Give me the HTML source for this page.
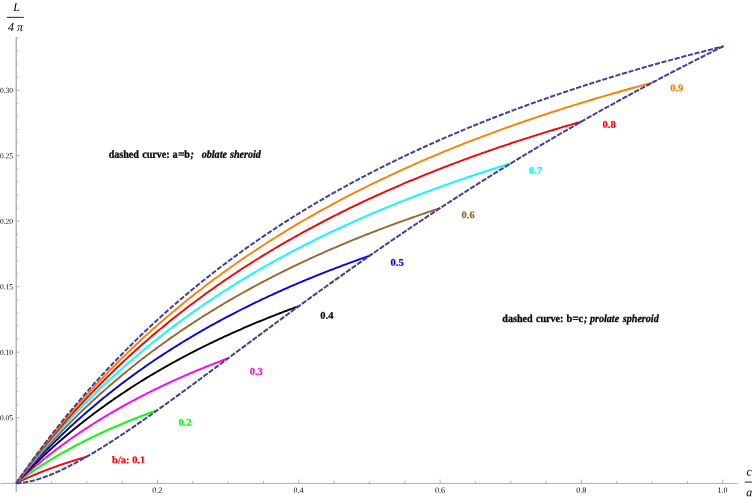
<!DOCTYPE html>
<html><head><meta charset="utf-8"><title>L/4pi vs c/a</title>
<style>
html,body{margin:0;padding:0;background:#fff;}
body{width:754px;height:497px;overflow:hidden;font-family:"Liberation Serif",serif;}
svg{display:block;will-change:transform;text-rendering:geometricPrecision;}
</style></head><body>
<svg width="754" height="497" viewBox="0 0 754 497">
<rect width="754" height="497" fill="#fff"/>
<g stroke="#b0b0b0" stroke-width="1" fill="none" shape-rendering="auto">
<line x1="1.0" y1="483.45" x2="737.5" y2="483.45"/>
<line x1="16.25" y1="37.3" x2="16.25" y2="492" stroke-width="1.4"/>
<line x1="51.53" y1="483.5" x2="51.53" y2="481.10"/>
<line x1="86.85" y1="483.5" x2="86.85" y2="481.10"/>
<line x1="122.18" y1="483.5" x2="122.18" y2="481.10"/>
<line x1="157.50" y1="483.5" x2="157.50" y2="479.50"/>
<line x1="192.82" y1="483.5" x2="192.82" y2="481.10"/>
<line x1="228.15" y1="483.5" x2="228.15" y2="481.10"/>
<line x1="263.48" y1="483.5" x2="263.48" y2="481.10"/>
<line x1="298.80" y1="483.5" x2="298.80" y2="479.50"/>
<line x1="334.12" y1="483.5" x2="334.12" y2="481.10"/>
<line x1="369.45" y1="483.5" x2="369.45" y2="481.10"/>
<line x1="404.78" y1="483.5" x2="404.78" y2="481.10"/>
<line x1="440.10" y1="483.5" x2="440.10" y2="479.50"/>
<line x1="475.43" y1="483.5" x2="475.43" y2="481.10"/>
<line x1="510.75" y1="483.5" x2="510.75" y2="481.10"/>
<line x1="546.08" y1="483.5" x2="546.08" y2="481.10"/>
<line x1="581.40" y1="483.5" x2="581.40" y2="479.50"/>
<line x1="616.73" y1="483.5" x2="616.73" y2="481.10"/>
<line x1="652.05" y1="483.5" x2="652.05" y2="481.10"/>
<line x1="687.38" y1="483.5" x2="687.38" y2="481.10"/>
<line x1="722.70" y1="483.5" x2="722.70" y2="479.50"/>
<line x1="16.25" y1="470.10" x2="18.15" y2="470.10"/>
<line x1="16.25" y1="457.00" x2="18.15" y2="457.00"/>
<line x1="16.25" y1="443.90" x2="18.15" y2="443.90"/>
<line x1="16.25" y1="430.80" x2="18.15" y2="430.80"/>
<line x1="16.25" y1="417.70" x2="19.65" y2="417.70"/>
<line x1="16.25" y1="404.60" x2="18.15" y2="404.60"/>
<line x1="16.25" y1="391.50" x2="18.15" y2="391.50"/>
<line x1="16.25" y1="378.40" x2="18.15" y2="378.40"/>
<line x1="16.25" y1="365.30" x2="18.15" y2="365.30"/>
<line x1="16.25" y1="352.20" x2="19.65" y2="352.20"/>
<line x1="16.25" y1="339.10" x2="18.15" y2="339.10"/>
<line x1="16.25" y1="326.00" x2="18.15" y2="326.00"/>
<line x1="16.25" y1="312.90" x2="18.15" y2="312.90"/>
<line x1="16.25" y1="299.80" x2="18.15" y2="299.80"/>
<line x1="16.25" y1="286.70" x2="19.65" y2="286.70"/>
<line x1="16.25" y1="273.60" x2="18.15" y2="273.60"/>
<line x1="16.25" y1="260.50" x2="18.15" y2="260.50"/>
<line x1="16.25" y1="247.40" x2="18.15" y2="247.40"/>
<line x1="16.25" y1="234.30" x2="18.15" y2="234.30"/>
<line x1="16.25" y1="221.20" x2="19.65" y2="221.20"/>
<line x1="16.25" y1="208.10" x2="18.15" y2="208.10"/>
<line x1="16.25" y1="195.00" x2="18.15" y2="195.00"/>
<line x1="16.25" y1="181.90" x2="18.15" y2="181.90"/>
<line x1="16.25" y1="168.80" x2="18.15" y2="168.80"/>
<line x1="16.25" y1="155.70" x2="19.65" y2="155.70"/>
<line x1="16.25" y1="142.60" x2="18.15" y2="142.60"/>
<line x1="16.25" y1="129.50" x2="18.15" y2="129.50"/>
<line x1="16.25" y1="116.40" x2="18.15" y2="116.40"/>
<line x1="16.25" y1="103.30" x2="18.15" y2="103.30"/>
<line x1="16.25" y1="90.20" x2="19.65" y2="90.20"/>
<line x1="16.25" y1="77.10" x2="18.15" y2="77.10"/>
<line x1="16.25" y1="64.00" x2="18.15" y2="64.00"/>
<line x1="16.25" y1="50.90" x2="18.15" y2="50.90"/>
<line x1="16.25" y1="37.80" x2="18.15" y2="37.80"/>
</g>
<g fill="none" stroke-width="1.9" stroke-linejoin="round">
<path d="M16.20 483.20 L16.50 483.05 L16.79 482.90 L17.09 482.76 L17.38 482.61 L17.68 482.46 L17.97 482.32 L18.27 482.17 L18.56 482.03 L18.86 481.88 L19.16 481.74 L19.45 481.60 L19.75 481.45 L20.04 481.31 L20.34 481.17 L20.63 481.02 L20.93 480.88 L21.23 480.74 L21.52 480.60 L21.82 480.46 L22.11 480.32 L22.41 480.18 L22.70 480.04 L23.00 479.90 L23.29 479.76 L23.59 479.63 L23.89 479.49 L24.18 479.35 L24.48 479.22 L24.77 479.08 L25.07 478.94 L25.36 478.81 L25.66 478.67 L25.96 478.54 L26.25 478.40 L26.55 478.27 L26.84 478.14 L27.14 478.00 L27.43 477.87 L27.73 477.74 L28.02 477.60 L28.32 477.47 L28.62 477.34 L28.91 477.21 L29.21 477.08 L29.50 476.95 L29.80 476.82 L30.09 476.69 L30.39 476.56 L30.68 476.43 L30.98 476.30 L31.28 476.17 L31.57 476.04 L31.87 475.92 L32.16 475.79 L32.46 475.66 L32.75 475.53 L33.05 475.41 L33.35 475.28 L33.64 475.16 L33.94 475.03 L34.23 474.91 L34.53 474.78 L34.82 474.66 L35.12 474.53 L35.41 474.41 L35.71 474.29 L36.01 474.16 L36.30 474.04 L36.60 473.92 L36.89 473.79 L37.19 473.67 L37.48 473.55 L37.78 473.43 L38.07 473.31 L38.37 473.19 L38.67 473.07 L38.96 472.95 L39.26 472.83 L39.55 472.71 L39.85 472.59 L40.14 472.47 L40.44 472.35 L40.74 472.23 L41.03 472.11 L41.33 472.00 L41.62 471.88 L41.92 471.76 L42.21 471.64 L42.51 471.53 L42.80 471.41 L43.10 471.30 L43.40 471.18 L43.69 471.06 L43.99 470.95 L44.28 470.83 L44.58 470.72 L44.87 470.60 L45.17 470.49 L45.47 470.38 L45.76 470.26 L46.06 470.15 L46.35 470.04 L46.65 469.92 L46.94 469.81 L47.24 469.70 L47.53 469.59 L47.83 469.47 L48.13 469.36 L48.42 469.25 L48.72 469.14 L49.01 469.03 L49.31 468.92 L49.60 468.81 L49.90 468.70 L50.19 468.59 L50.49 468.48 L50.79 468.37 L51.08 468.26 L51.38 468.15 L51.67 468.04 L51.97 467.94 L52.26 467.83 L52.56 467.72 L52.86 467.61 L53.15 467.50 L53.45 467.40 L53.74 467.29 L54.04 467.18 L54.33 467.08 L54.63 466.97 L54.92 466.87 L55.22 466.76 L55.52 466.65 L55.81 466.55 L56.11 466.44 L56.40 466.34 L56.70 466.23 L56.99 466.13 L57.29 466.03 L57.58 465.92 L57.88 465.82 L58.18 465.72 L58.47 465.61 L58.77 465.51 L59.06 465.41 L59.36 465.30 L59.65 465.20 L59.95 465.10 L60.25 465.00 L60.54 464.90 L60.84 464.79 L61.13 464.69 L61.43 464.59 L61.72 464.49 L62.02 464.39 L62.31 464.29 L62.61 464.19 L62.91 464.09 L63.20 463.99 L63.50 463.89 L63.79 463.79 L64.09 463.69 L64.38 463.59 L64.68 463.50 L64.98 463.40 L65.27 463.30 L65.57 463.20 L65.86 463.10 L66.16 463.01 L66.45 462.91 L66.75 462.81 L67.04 462.71 L67.34 462.62 L67.64 462.52 L67.93 462.42 L68.23 462.33 L68.52 462.23 L68.82 462.13 L69.11 462.04 L69.41 461.94 L69.70 461.85 L70.00 461.75 L70.30 461.66 L70.59 461.56 L70.89 461.47 L71.18 461.37 L71.48 461.28 L71.77 461.19 L72.07 461.09 L72.37 461.00 L72.66 460.91 L72.96 460.81 L73.25 460.72 L73.55 460.63 L73.84 460.53 L74.14 460.44 L74.43 460.35 L74.73 460.26 L75.03 460.16 L75.32 460.07 L75.62 459.98 L75.91 459.89 L76.21 459.80 L76.50 459.71 L76.80 459.62 L77.09 459.53 L77.39 459.43 L77.69 459.34 L77.98 459.25 L78.28 459.16 L78.57 459.07 L78.87 458.98 L79.16 458.90 L79.46 458.81 L79.76 458.72 L80.05 458.63 L80.35 458.54 L80.64 458.45 L80.94 458.36 L81.23 458.27 L81.53 458.18 L81.82 458.10 L82.12 458.01 L82.42 457.92 L82.71 457.83 L83.01 457.75 L83.30 457.66 L83.60 457.57 L83.89 457.49 L84.19 457.40 L84.49 457.31 L84.78 457.23 L85.08 457.14 L85.37 457.05 L85.67 456.97 L85.96 456.88 L86.26 456.80 L86.55 456.71 L86.85 456.63" stroke="#ff0000"/>
<path d="M16.20 483.20 L16.79 482.75 L17.38 482.31 L17.97 481.86 L18.56 481.42 L19.16 480.98 L19.75 480.54 L20.34 480.10 L20.93 479.67 L21.52 479.23 L22.11 478.80 L22.70 478.37 L23.29 477.94 L23.89 477.51 L24.48 477.09 L25.07 476.67 L25.66 476.24 L26.25 475.82 L26.84 475.40 L27.43 474.99 L28.02 474.57 L28.62 474.16 L29.21 473.75 L29.80 473.34 L30.39 472.93 L30.98 472.52 L31.57 472.11 L32.16 471.71 L32.75 471.31 L33.35 470.90 L33.94 470.50 L34.53 470.11 L35.12 469.71 L35.71 469.31 L36.30 468.92 L36.89 468.53 L37.48 468.14 L38.07 467.75 L38.67 467.36 L39.26 466.97 L39.85 466.59 L40.44 466.20 L41.03 465.82 L41.62 465.44 L42.21 465.06 L42.80 464.68 L43.40 464.30 L43.99 463.93 L44.58 463.55 L45.17 463.18 L45.76 462.81 L46.35 462.44 L46.94 462.07 L47.53 461.70 L48.13 461.34 L48.72 460.97 L49.31 460.61 L49.90 460.24 L50.49 459.88 L51.08 459.52 L51.67 459.16 L52.26 458.81 L52.86 458.45 L53.45 458.10 L54.04 457.74 L54.63 457.39 L55.22 457.04 L55.81 456.69 L56.40 456.34 L56.99 455.99 L57.58 455.64 L58.18 455.30 L58.77 454.96 L59.36 454.61 L59.95 454.27 L60.54 453.93 L61.13 453.59 L61.72 453.25 L62.31 452.91 L62.91 452.58 L63.50 452.24 L64.09 451.91 L64.68 451.58 L65.27 451.24 L65.86 450.91 L66.45 450.58 L67.04 450.26 L67.64 449.93 L68.23 449.60 L68.82 449.28 L69.41 448.95 L70.00 448.63 L70.59 448.31 L71.18 447.99 L71.77 447.67 L72.37 447.35 L72.96 447.03 L73.55 446.71 L74.14 446.40 L74.73 446.08 L75.32 445.77 L75.91 445.46 L76.50 445.14 L77.09 444.83 L77.69 444.52 L78.28 444.22 L78.87 443.91 L79.46 443.60 L80.05 443.29 L80.64 442.99 L81.23 442.69 L81.82 442.38 L82.42 442.08 L83.01 441.78 L83.60 441.48 L84.19 441.18 L84.78 440.88 L85.37 440.58 L85.96 440.29 L86.55 439.99 L87.15 439.70 L87.74 439.40 L88.33 439.11 L88.92 438.82 L89.51 438.53 L90.10 438.24 L90.69 437.95 L91.28 437.66 L91.88 437.37 L92.47 437.09 L93.06 436.80 L93.65 436.52 L94.24 436.23 L94.83 435.95 L95.42 435.67 L96.01 435.38 L96.61 435.10 L97.20 434.82 L97.79 434.55 L98.38 434.27 L98.97 433.99 L99.56 433.71 L100.15 433.44 L100.74 433.16 L101.33 432.89 L101.93 432.62 L102.52 432.34 L103.11 432.07 L103.70 431.80 L104.29 431.53 L104.88 431.26 L105.47 430.99 L106.06 430.73 L106.66 430.46 L107.25 430.19 L107.84 429.93 L108.43 429.66 L109.02 429.40 L109.61 429.14 L110.20 428.87 L110.79 428.61 L111.39 428.35 L111.98 428.09 L112.57 427.83 L113.16 427.57 L113.75 427.31 L114.34 427.06 L114.93 426.80 L115.52 426.55 L116.12 426.29 L116.71 426.04 L117.30 425.78 L117.89 425.53 L118.48 425.28 L119.07 425.03 L119.66 424.78 L120.25 424.53 L120.84 424.28 L121.44 424.03 L122.03 423.78 L122.62 423.53 L123.21 423.29 L123.80 423.04 L124.39 422.80 L124.98 422.55 L125.57 422.31 L126.17 422.07 L126.76 421.82 L127.35 421.58 L127.94 421.34 L128.53 421.10 L129.12 420.86 L129.71 420.62 L130.30 420.38 L130.90 420.14 L131.49 419.91 L132.08 419.67 L132.67 419.44 L133.26 419.20 L133.85 418.97 L134.44 418.73 L135.03 418.50 L135.63 418.27 L136.22 418.03 L136.81 417.80 L137.40 417.57 L137.99 417.34 L138.58 417.11 L139.17 416.88 L139.76 416.65 L140.35 416.43 L140.95 416.20 L141.54 415.97 L142.13 415.75 L142.72 415.52 L143.31 415.30 L143.90 415.07 L144.49 414.85 L145.08 414.63 L145.68 414.40 L146.27 414.18 L146.86 413.96 L147.45 413.74 L148.04 413.52 L148.63 413.30 L149.22 413.08 L149.81 412.86 L150.41 412.64 L151.00 412.43 L151.59 412.21 L152.18 411.99 L152.77 411.78 L153.36 411.56 L153.95 411.35 L154.54 411.14 L155.14 410.92 L155.73 410.71 L156.32 410.50 L156.91 410.29 L157.50 410.07" stroke="#00ff00"/>
<path d="M16.20 483.20 L17.09 482.37 L17.97 481.55 L18.86 480.73 L19.75 479.91 L20.63 479.10 L21.52 478.29 L22.41 477.49 L23.29 476.69 L24.18 475.89 L25.07 475.10 L25.96 474.31 L26.84 473.53 L27.73 472.75 L28.62 471.97 L29.50 471.20 L30.39 470.43 L31.28 469.66 L32.16 468.90 L33.05 468.14 L33.94 467.38 L34.82 466.63 L35.71 465.88 L36.60 465.14 L37.48 464.40 L38.37 463.66 L39.26 462.92 L40.14 462.19 L41.03 461.47 L41.92 460.74 L42.80 460.02 L43.69 459.30 L44.58 458.59 L45.47 457.88 L46.35 457.17 L47.24 456.46 L48.13 455.76 L49.01 455.06 L49.90 454.37 L50.79 453.68 L51.67 452.99 L52.56 452.30 L53.45 451.62 L54.33 450.94 L55.22 450.26 L56.11 449.59 L56.99 448.92 L57.88 448.25 L58.77 447.59 L59.65 446.92 L60.54 446.26 L61.43 445.61 L62.31 444.95 L63.20 444.30 L64.09 443.66 L64.98 443.01 L65.86 442.37 L66.75 441.73 L67.64 441.09 L68.52 440.46 L69.41 439.83 L70.30 439.20 L71.18 438.57 L72.07 437.95 L72.96 437.33 L73.84 436.71 L74.73 436.10 L75.62 435.48 L76.50 434.87 L77.39 434.27 L78.28 433.66 L79.16 433.06 L80.05 432.46 L80.94 431.86 L81.82 431.27 L82.71 430.67 L83.60 430.08 L84.49 429.50 L85.37 428.91 L86.26 428.33 L87.15 427.75 L88.03 427.17 L88.92 426.59 L89.81 426.02 L90.69 425.45 L91.58 424.88 L92.47 424.31 L93.35 423.75 L94.24 423.19 L95.13 422.63 L96.01 422.07 L96.90 421.51 L97.79 420.96 L98.67 420.41 L99.56 419.86 L100.45 419.32 L101.33 418.77 L102.22 418.23 L103.11 417.69 L104.00 417.15 L104.88 416.62 L105.77 416.08 L106.66 415.55 L107.54 415.02 L108.43 414.49 L109.32 413.97 L110.20 413.44 L111.09 412.92 L111.98 412.40 L112.86 411.89 L113.75 411.37 L114.64 410.86 L115.52 410.35 L116.41 409.84 L117.30 409.33 L118.18 408.82 L119.07 408.32 L119.96 407.82 L120.84 407.32 L121.73 406.82 L122.62 406.33 L123.51 405.83 L124.39 405.34 L125.28 404.85 L126.17 404.36 L127.05 403.87 L127.94 403.39 L128.83 402.91 L129.71 402.42 L130.60 401.95 L131.49 401.47 L132.37 400.99 L133.26 400.52 L134.15 400.05 L135.03 399.57 L135.92 399.11 L136.81 398.64 L137.69 398.17 L138.58 397.71 L139.47 397.25 L140.35 396.79 L141.24 396.33 L142.13 395.87 L143.02 395.42 L143.90 394.96 L144.79 394.51 L145.68 394.06 L146.56 393.61 L147.45 393.16 L148.34 392.72 L149.22 392.27 L150.11 391.83 L151.00 391.39 L151.88 390.95 L152.77 390.51 L153.66 390.08 L154.54 389.64 L155.43 389.21 L156.32 388.78 L157.20 388.35 L158.09 387.92 L158.98 387.49 L159.86 387.07 L160.75 386.64 L161.64 386.22 L162.53 385.80 L163.41 385.38 L164.30 384.96 L165.19 384.54 L166.07 384.13 L166.96 383.72 L167.85 383.30 L168.73 382.89 L169.62 382.48 L170.51 382.07 L171.39 381.67 L172.28 381.26 L173.17 380.86 L174.05 380.46 L174.94 380.05 L175.83 379.66 L176.71 379.26 L177.60 378.86 L178.49 378.46 L179.37 378.07 L180.26 377.68 L181.15 377.28 L182.04 376.89 L182.92 376.51 L183.81 376.12 L184.70 375.73 L185.58 375.35 L186.47 374.96 L187.36 374.58 L188.24 374.20 L189.13 373.82 L190.02 373.44 L190.90 373.06 L191.79 372.69 L192.68 372.31 L193.56 371.94 L194.45 371.56 L195.34 371.19 L196.22 370.82 L197.11 370.45 L198.00 370.09 L198.88 369.72 L199.77 369.35 L200.66 368.99 L201.55 368.63 L202.43 368.27 L203.32 367.90 L204.21 367.55 L205.09 367.19 L205.98 366.83 L206.87 366.47 L207.75 366.12 L208.64 365.77 L209.53 365.41 L210.41 365.06 L211.30 364.71 L212.19 364.36 L213.07 364.01 L213.96 363.67 L214.85 363.32 L215.73 362.98 L216.62 362.63 L217.51 362.29 L218.39 361.95 L219.28 361.61 L220.17 361.27 L221.06 360.93 L221.94 360.60 L222.83 360.26 L223.72 359.92 L224.60 359.59 L225.49 359.26 L226.38 358.93 L227.26 358.59 L228.15 358.27" stroke="#ff00ff"/>
<path d="M16.20 483.20 L17.38 481.94 L18.56 480.69 L19.75 479.45 L20.93 478.21 L22.11 476.98 L23.29 475.76 L24.48 474.54 L25.66 473.33 L26.84 472.13 L28.02 470.94 L29.21 469.75 L30.39 468.57 L31.57 467.39 L32.75 466.23 L33.94 465.06 L35.12 463.91 L36.30 462.76 L37.48 461.62 L38.67 460.48 L39.85 459.35 L41.03 458.23 L42.21 457.11 L43.40 456.00 L44.58 454.89 L45.76 453.79 L46.94 452.70 L48.13 451.61 L49.31 450.53 L50.49 449.46 L51.67 448.38 L52.86 447.32 L54.04 446.26 L55.22 445.21 L56.40 444.16 L57.58 443.12 L58.77 442.08 L59.95 441.05 L61.13 440.03 L62.31 439.01 L63.50 437.99 L64.68 436.98 L65.86 435.98 L67.04 434.98 L68.23 433.99 L69.41 433.00 L70.59 432.01 L71.77 431.03 L72.96 430.06 L74.14 429.09 L75.32 428.13 L76.50 427.17 L77.69 426.22 L78.87 425.27 L80.05 424.32 L81.23 423.38 L82.42 422.45 L83.60 421.52 L84.78 420.59 L85.96 419.67 L87.15 418.76 L88.33 417.85 L89.51 416.94 L90.69 416.04 L91.88 415.14 L93.06 414.24 L94.24 413.35 L95.42 412.47 L96.61 411.59 L97.79 410.71 L98.97 409.84 L100.15 408.97 L101.33 408.11 L102.52 407.25 L103.70 406.40 L104.88 405.54 L106.06 404.70 L107.25 403.86 L108.43 403.02 L109.61 402.18 L110.79 401.35 L111.98 400.52 L113.16 399.70 L114.34 398.88 L115.52 398.07 L116.71 397.26 L117.89 396.45 L119.07 395.64 L120.25 394.84 L121.44 394.05 L122.62 393.26 L123.80 392.47 L124.98 391.68 L126.17 390.90 L127.35 390.12 L128.53 389.35 L129.71 388.58 L130.90 387.81 L132.08 387.05 L133.26 386.29 L134.44 385.53 L135.63 384.78 L136.81 384.03 L137.99 383.28 L139.17 382.54 L140.35 381.80 L141.54 381.06 L142.72 380.33 L143.90 379.60 L145.08 378.87 L146.27 378.15 L147.45 377.43 L148.63 376.72 L149.81 376.00 L151.00 375.29 L152.18 374.58 L153.36 373.88 L154.54 373.18 L155.73 372.48 L156.91 371.79 L158.09 371.10 L159.27 370.41 L160.46 369.72 L161.64 369.04 L162.82 368.36 L164.00 367.68 L165.19 367.01 L166.37 366.34 L167.55 365.67 L168.73 365.01 L169.92 364.34 L171.10 363.69 L172.28 363.03 L173.46 362.38 L174.65 361.72 L175.83 361.08 L177.01 360.43 L178.19 359.79 L179.37 359.15 L180.56 358.51 L181.74 357.88 L182.92 357.25 L184.10 356.62 L185.29 355.99 L186.47 355.37 L187.65 354.75 L188.83 354.13 L190.02 353.51 L191.20 352.90 L192.38 352.29 L193.56 351.68 L194.75 351.07 L195.93 350.47 L197.11 349.87 L198.29 349.27 L199.48 348.68 L200.66 348.08 L201.84 347.49 L203.02 346.90 L204.21 346.32 L205.39 345.73 L206.57 345.15 L207.75 344.57 L208.94 344.00 L210.12 343.42 L211.30 342.85 L212.48 342.28 L213.67 341.71 L214.85 341.15 L216.03 340.59 L217.21 340.03 L218.39 339.47 L219.58 338.91 L220.76 338.36 L221.94 337.81 L223.12 337.26 L224.31 336.71 L225.49 336.17 L226.67 335.62 L227.85 335.08 L229.04 334.54 L230.22 334.01 L231.40 333.47 L232.58 332.94 L233.77 332.41 L234.95 331.88 L236.13 331.36 L237.31 330.83 L238.50 330.31 L239.68 329.79 L240.86 329.27 L242.04 328.76 L243.23 328.24 L244.41 327.73 L245.59 327.22 L246.77 326.71 L247.96 326.21 L249.14 325.70 L250.32 325.20 L251.50 324.70 L252.69 324.20 L253.87 323.71 L255.05 323.21 L256.23 322.72 L257.42 322.23 L258.60 321.74 L259.78 321.25 L260.96 320.77 L262.14 320.29 L263.33 319.80 L264.51 319.32 L265.69 318.85 L266.87 318.37 L268.06 317.90 L269.24 317.42 L270.42 316.95 L271.60 316.48 L272.79 316.02 L273.97 315.55 L275.15 315.09 L276.33 314.62 L277.52 314.16 L278.70 313.71 L279.88 313.25 L281.06 312.79 L282.25 312.34 L283.43 311.89 L284.61 311.44 L285.79 310.99 L286.98 310.54 L288.16 310.10 L289.34 309.65 L290.52 309.21 L291.71 308.77 L292.89 308.33 L294.07 307.89 L295.25 307.46 L296.44 307.02 L297.62 306.59 L298.80 306.16" stroke="#000000"/>
<path d="M16.20 483.20 L17.68 481.48 L19.16 479.77 L20.63 478.07 L22.11 476.38 L23.59 474.70 L25.07 473.04 L26.55 471.38 L28.02 469.74 L29.50 468.10 L30.98 466.48 L32.46 464.87 L33.94 463.27 L35.41 461.67 L36.89 460.09 L38.37 458.52 L39.85 456.96 L41.33 455.41 L42.80 453.86 L44.28 452.33 L45.76 450.81 L47.24 449.29 L48.72 447.79 L50.19 446.30 L51.67 444.81 L53.15 443.33 L54.63 441.87 L56.11 440.41 L57.58 438.96 L59.06 437.52 L60.54 436.09 L62.02 434.66 L63.50 433.25 L64.98 431.84 L66.45 430.45 L67.93 429.06 L69.41 427.68 L70.89 426.31 L72.37 424.94 L73.84 423.59 L75.32 422.24 L76.80 420.90 L78.28 419.57 L79.76 418.24 L81.23 416.93 L82.71 415.62 L84.19 414.32 L85.67 413.02 L87.15 411.74 L88.62 410.46 L90.10 409.19 L91.58 407.93 L93.06 406.67 L94.54 405.42 L96.01 404.18 L97.49 402.95 L98.97 401.72 L100.45 400.50 L101.93 399.28 L103.40 398.08 L104.88 396.88 L106.36 395.68 L107.84 394.50 L109.32 393.32 L110.79 392.14 L112.27 390.98 L113.75 389.82 L115.23 388.66 L116.71 387.52 L118.18 386.38 L119.66 385.24 L121.14 384.11 L122.62 382.99 L124.10 381.88 L125.57 380.77 L127.05 379.66 L128.53 378.56 L130.01 377.47 L131.49 376.39 L132.96 375.31 L134.44 374.23 L135.92 373.16 L137.40 372.10 L138.88 371.05 L140.35 369.99 L141.83 368.95 L143.31 367.91 L144.79 366.87 L146.27 365.84 L147.74 364.82 L149.22 363.80 L150.70 362.79 L152.18 361.78 L153.66 360.78 L155.14 359.78 L156.61 358.79 L158.09 357.81 L159.57 356.82 L161.05 355.85 L162.53 354.88 L164.00 353.91 L165.48 352.95 L166.96 351.99 L168.44 351.04 L169.92 350.09 L171.39 349.15 L172.87 348.22 L174.35 347.28 L175.83 346.36 L177.31 345.43 L178.78 344.52 L180.26 343.60 L181.74 342.69 L183.22 341.79 L184.70 340.89 L186.17 339.99 L187.65 339.10 L189.13 338.22 L190.61 337.34 L192.09 336.46 L193.56 335.58 L195.04 334.72 L196.52 333.85 L198.00 332.99 L199.48 332.14 L200.95 331.28 L202.43 330.44 L203.91 329.59 L205.39 328.75 L206.87 327.92 L208.34 327.09 L209.82 326.26 L211.30 325.44 L212.78 324.62 L214.26 323.80 L215.73 322.99 L217.21 322.18 L218.69 321.38 L220.17 320.58 L221.65 319.78 L223.12 318.99 L224.60 318.20 L226.08 317.42 L227.56 316.64 L229.04 315.86 L230.51 315.09 L231.99 314.31 L233.47 313.55 L234.95 312.79 L236.43 312.03 L237.91 311.27 L239.38 310.52 L240.86 309.77 L242.34 309.02 L243.82 308.28 L245.30 307.54 L246.77 306.81 L248.25 306.08 L249.73 305.35 L251.21 304.63 L252.69 303.90 L254.16 303.19 L255.64 302.47 L257.12 301.76 L258.60 301.05 L260.08 300.35 L261.55 299.64 L263.03 298.94 L264.51 298.25 L265.99 297.56 L267.47 296.87 L268.94 296.18 L270.42 295.50 L271.90 294.82 L273.38 294.14 L274.86 293.47 L276.33 292.79 L277.81 292.13 L279.29 291.46 L280.77 290.80 L282.25 290.14 L283.72 289.48 L285.20 288.83 L286.68 288.18 L288.16 287.53 L289.64 286.89 L291.11 286.24 L292.59 285.60 L294.07 284.97 L295.55 284.33 L297.03 283.70 L298.50 283.07 L299.98 282.45 L301.46 281.83 L302.94 281.21 L304.42 280.59 L305.89 279.97 L307.37 279.36 L308.85 278.75 L310.33 278.14 L311.81 277.54 L313.28 276.94 L314.76 276.34 L316.24 275.74 L317.72 275.15 L319.20 274.56 L320.67 273.97 L322.15 273.38 L323.63 272.80 L325.11 272.21 L326.59 271.63 L328.07 271.06 L329.54 270.48 L331.02 269.91 L332.50 269.34 L333.98 268.77 L335.46 268.21 L336.93 267.65 L338.41 267.09 L339.89 266.53 L341.37 265.97 L342.85 265.42 L344.32 264.87 L345.80 264.32 L347.28 263.77 L348.76 263.23 L350.24 262.68 L351.71 262.14 L353.19 261.61 L354.67 261.07 L356.15 260.54 L357.63 260.01 L359.10 259.48 L360.58 258.95 L362.06 258.42 L363.54 257.90 L365.02 257.38 L366.49 256.86 L367.97 256.35 L369.45 255.83" stroke="#0000ff"/>
<path d="M16.20 483.20 L17.97 480.99 L19.75 478.80 L21.52 476.62 L23.29 474.46 L25.07 472.32 L26.84 470.19 L28.62 468.08 L30.39 465.98 L32.16 463.90 L33.94 461.83 L35.71 459.78 L37.48 457.74 L39.26 455.72 L41.03 453.71 L42.80 451.71 L44.58 449.73 L46.35 447.77 L48.13 445.82 L49.90 443.88 L51.67 441.95 L53.45 440.04 L55.22 438.14 L56.99 436.26 L58.77 434.39 L60.54 432.53 L62.31 430.68 L64.09 428.85 L65.86 427.03 L67.64 425.22 L69.41 423.42 L71.18 421.64 L72.96 419.87 L74.73 418.11 L76.50 416.36 L78.28 414.62 L80.05 412.90 L81.82 411.18 L83.60 409.48 L85.37 407.79 L87.15 406.11 L88.92 404.44 L90.69 402.79 L92.47 401.14 L94.24 399.50 L96.01 397.88 L97.79 396.27 L99.56 394.66 L101.33 393.07 L103.11 391.49 L104.88 389.91 L106.66 388.35 L108.43 386.80 L110.20 385.26 L111.98 383.72 L113.75 382.20 L115.52 380.69 L117.30 379.18 L119.07 377.69 L120.84 376.20 L122.62 374.73 L124.39 373.26 L126.17 371.81 L127.94 370.36 L129.71 368.92 L131.49 367.49 L133.26 366.07 L135.03 364.66 L136.81 363.25 L138.58 361.86 L140.35 360.47 L142.13 359.09 L143.90 357.72 L145.68 356.36 L147.45 355.01 L149.22 353.67 L151.00 352.33 L152.77 351.00 L154.54 349.68 L156.32 348.37 L158.09 347.06 L159.86 345.77 L161.64 344.48 L163.41 343.19 L165.19 341.92 L166.96 340.65 L168.73 339.40 L170.51 338.14 L172.28 336.90 L174.05 335.66 L175.83 334.43 L177.60 333.21 L179.37 332.00 L181.15 330.79 L182.92 329.59 L184.70 328.39 L186.47 327.20 L188.24 326.02 L190.02 324.85 L191.79 323.68 L193.56 322.52 L195.34 321.37 L197.11 320.22 L198.88 319.08 L200.66 317.95 L202.43 316.82 L204.21 315.70 L205.98 314.58 L207.75 313.47 L209.53 312.37 L211.30 311.27 L213.07 310.18 L214.85 309.10 L216.62 308.02 L218.39 306.95 L220.17 305.88 L221.94 304.82 L223.72 303.76 L225.49 302.71 L227.26 301.67 L229.04 300.63 L230.81 299.60 L232.58 298.58 L234.36 297.55 L236.13 296.54 L237.91 295.53 L239.68 294.52 L241.45 293.53 L243.23 292.53 L245.00 291.54 L246.77 290.56 L248.55 289.58 L250.32 288.61 L252.09 287.64 L253.87 286.68 L255.64 285.72 L257.42 284.77 L259.19 283.82 L260.96 282.88 L262.74 281.95 L264.51 281.01 L266.28 280.09 L268.06 279.16 L269.83 278.25 L271.60 277.33 L273.38 276.42 L275.15 275.52 L276.93 274.62 L278.70 273.73 L280.47 272.84 L282.25 271.95 L284.02 271.07 L285.79 270.20 L287.57 269.32 L289.34 268.46 L291.11 267.59 L292.89 266.73 L294.66 265.88 L296.44 265.03 L298.21 264.19 L299.98 263.34 L301.76 262.51 L303.53 261.67 L305.30 260.85 L307.08 260.02 L308.85 259.20 L310.62 258.38 L312.40 257.57 L314.17 256.76 L315.95 255.96 L317.72 255.16 L319.49 254.36 L321.27 253.57 L323.04 252.78 L324.81 252.00 L326.59 251.21 L328.36 250.44 L330.13 249.66 L331.91 248.89 L333.68 248.13 L335.46 247.37 L337.23 246.61 L339.00 245.85 L340.78 245.10 L342.55 244.35 L344.32 243.61 L346.10 242.87 L347.87 242.13 L349.64 241.40 L351.42 240.67 L353.19 239.94 L354.97 239.22 L356.74 238.50 L358.51 237.78 L360.29 237.07 L362.06 236.36 L363.83 235.65 L365.61 234.95 L367.38 234.25 L369.15 233.56 L370.93 232.86 L372.70 232.17 L374.48 231.49 L376.25 230.80 L378.02 230.12 L379.80 229.44 L381.57 228.77 L383.34 228.10 L385.12 227.43 L386.89 226.77 L388.66 226.10 L390.44 225.45 L392.21 224.79 L393.99 224.14 L395.76 223.49 L397.53 222.84 L399.31 222.20 L401.08 221.55 L402.85 220.92 L404.63 220.28 L406.40 219.65 L408.17 219.02 L409.95 218.39 L411.72 217.77 L413.50 217.15 L415.27 216.53 L417.04 215.91 L418.82 215.30 L420.59 214.69 L422.36 214.08 L424.14 213.48 L425.91 212.87 L427.68 212.27 L429.46 211.68 L431.23 211.08 L433.01 210.49 L434.78 209.90 L436.55 209.32 L438.33 208.73 L440.10 208.15" stroke="#996633"/>
<path d="M16.20 483.20 L18.27 480.49 L20.34 477.80 L22.41 475.13 L24.48 472.49 L26.55 469.86 L28.62 467.26 L30.68 464.68 L32.75 462.11 L34.82 459.57 L36.89 457.05 L38.96 454.55 L41.03 452.07 L43.10 449.61 L45.17 447.17 L47.24 444.75 L49.31 442.34 L51.38 439.96 L53.45 437.59 L55.52 435.24 L57.58 432.91 L59.65 430.60 L61.72 428.31 L63.79 426.03 L65.86 423.77 L67.93 421.53 L70.00 419.31 L72.07 417.10 L74.14 414.91 L76.21 412.73 L78.28 410.58 L80.35 408.43 L82.42 406.31 L84.49 404.20 L86.55 402.10 L88.62 400.02 L90.69 397.96 L92.76 395.91 L94.83 393.88 L96.90 391.86 L98.97 389.85 L101.04 387.86 L103.11 385.89 L105.18 383.93 L107.25 381.98 L109.32 380.05 L111.39 378.13 L113.45 376.22 L115.52 374.33 L117.59 372.45 L119.66 370.59 L121.73 368.74 L123.80 366.90 L125.87 365.07 L127.94 363.26 L130.01 361.46 L132.08 359.67 L134.15 357.90 L136.22 356.13 L138.29 354.38 L140.35 352.64 L142.42 350.92 L144.49 349.20 L146.56 347.50 L148.63 345.81 L150.70 344.13 L152.77 342.46 L154.84 340.80 L156.91 339.15 L158.98 337.52 L161.05 335.90 L163.12 334.28 L165.19 332.68 L167.26 331.09 L169.32 329.51 L171.39 327.93 L173.46 326.37 L175.53 324.82 L177.60 323.28 L179.67 321.75 L181.74 320.23 L183.81 318.72 L185.88 317.22 L187.95 315.73 L190.02 314.25 L192.09 312.78 L194.16 311.32 L196.22 309.87 L198.29 308.42 L200.36 306.99 L202.43 305.56 L204.50 304.15 L206.57 302.74 L208.64 301.34 L210.71 299.95 L212.78 298.57 L214.85 297.20 L216.92 295.84 L218.99 294.48 L221.06 293.14 L223.12 291.80 L225.19 290.47 L227.26 289.15 L229.33 287.84 L231.40 286.53 L233.47 285.23 L235.54 283.95 L237.61 282.66 L239.68 281.39 L241.75 280.13 L243.82 278.87 L245.89 277.62 L247.96 276.37 L250.02 275.14 L252.09 273.91 L254.16 272.69 L256.23 271.48 L258.30 270.27 L260.37 269.07 L262.44 267.88 L264.51 266.70 L266.58 265.52 L268.65 264.35 L270.72 263.18 L272.79 262.03 L274.86 260.88 L276.93 259.73 L278.99 258.60 L281.06 257.47 L283.13 256.34 L285.20 255.23 L287.27 254.12 L289.34 253.01 L291.41 251.91 L293.48 250.82 L295.55 249.74 L297.62 248.66 L299.69 247.58 L301.76 246.52 L303.83 245.46 L305.89 244.40 L307.96 243.35 L310.03 242.31 L312.10 241.27 L314.17 240.24 L316.24 239.22 L318.31 238.20 L320.38 237.18 L322.45 236.17 L324.52 235.17 L326.59 234.17 L328.66 233.18 L330.73 232.20 L332.79 231.22 L334.86 230.24 L336.93 229.27 L339.00 228.30 L341.07 227.35 L343.14 226.39 L345.21 225.44 L347.28 224.50 L349.35 223.56 L351.42 222.63 L353.49 221.70 L355.56 220.77 L357.63 219.85 L359.69 218.94 L361.76 218.03 L363.83 217.13 L365.90 216.23 L367.97 215.33 L370.04 214.44 L372.11 213.56 L374.18 212.68 L376.25 211.80 L378.32 210.93 L380.39 210.06 L382.46 209.20 L384.53 208.34 L386.60 207.49 L388.66 206.64 L390.73 205.80 L392.80 204.96 L394.87 204.12 L396.94 203.29 L399.01 202.47 L401.08 201.64 L403.15 200.82 L405.22 200.01 L407.29 199.20 L409.36 198.39 L411.43 197.59 L413.50 196.79 L415.56 196.00 L417.63 195.21 L419.70 194.43 L421.77 193.64 L423.84 192.87 L425.91 192.09 L427.98 191.32 L430.05 190.56 L432.12 189.79 L434.19 189.03 L436.26 188.28 L438.33 187.53 L440.40 186.78 L442.46 186.04 L444.53 185.30 L446.60 184.56 L448.67 183.83 L450.74 183.10 L452.81 182.37 L454.88 181.65 L456.95 180.93 L459.02 180.22 L461.09 179.51 L463.16 178.80 L465.23 178.09 L467.30 177.39 L469.37 176.70 L471.43 176.00 L473.50 175.31 L475.57 174.62 L477.64 173.94 L479.71 173.26 L481.78 172.58 L483.85 171.90 L485.92 171.23 L487.99 170.56 L490.06 169.90 L492.13 169.24 L494.20 168.58 L496.27 167.92 L498.33 167.27 L500.40 166.62 L502.47 165.97 L504.54 165.33 L506.61 164.69 L508.68 164.05 L510.75 163.42" stroke="#00ffff"/>
<path d="M16.20 483.20 L18.56 479.97 L20.93 476.77 L23.29 473.61 L25.66 470.46 L28.02 467.35 L30.39 464.27 L32.75 461.21 L35.12 458.18 L37.48 455.17 L39.85 452.19 L42.21 449.24 L44.58 446.31 L46.94 443.41 L49.31 440.53 L51.67 437.68 L54.04 434.85 L56.40 432.05 L58.77 429.27 L61.13 426.51 L63.50 423.78 L65.86 421.07 L68.23 418.38 L70.59 415.72 L72.96 413.08 L75.32 410.46 L77.69 407.86 L80.05 405.28 L82.42 402.73 L84.78 400.19 L87.15 397.68 L89.51 395.18 L91.88 392.71 L94.24 390.25 L96.61 387.82 L98.97 385.41 L101.33 383.01 L103.70 380.64 L106.06 378.28 L108.43 375.94 L110.79 373.62 L113.16 371.32 L115.52 369.04 L117.89 366.77 L120.25 364.53 L122.62 362.30 L124.98 360.08 L127.35 357.89 L129.71 355.71 L132.08 353.55 L134.44 351.40 L136.81 349.27 L139.17 347.16 L141.54 345.07 L143.90 342.99 L146.27 340.92 L148.63 338.87 L151.00 336.84 L153.36 334.82 L155.73 332.82 L158.09 330.83 L160.46 328.86 L162.82 326.90 L165.19 324.95 L167.55 323.02 L169.92 321.11 L172.28 319.21 L174.65 317.32 L177.01 315.44 L179.37 313.58 L181.74 311.74 L184.10 309.90 L186.47 308.08 L188.83 306.28 L191.20 304.48 L193.56 302.70 L195.93 300.93 L198.29 299.18 L200.66 297.43 L203.02 295.70 L205.39 293.98 L207.75 292.27 L210.12 290.58 L212.48 288.90 L214.85 287.22 L217.21 285.56 L219.58 283.92 L221.94 282.28 L224.31 280.65 L226.67 279.04 L229.04 277.44 L231.40 275.84 L233.77 274.26 L236.13 272.69 L238.50 271.13 L240.86 269.58 L243.23 268.04 L245.59 266.51 L247.96 265.00 L250.32 263.49 L252.69 261.99 L255.05 260.50 L257.42 259.02 L259.78 257.56 L262.14 256.10 L264.51 254.65 L266.87 253.21 L269.24 251.78 L271.60 250.36 L273.97 248.95 L276.33 247.54 L278.70 246.15 L281.06 244.77 L283.43 243.39 L285.79 242.02 L288.16 240.67 L290.52 239.32 L292.89 237.98 L295.25 236.65 L297.62 235.32 L299.98 234.01 L302.35 232.70 L304.71 231.41 L307.08 230.12 L309.44 228.83 L311.81 227.56 L314.17 226.29 L316.54 225.04 L318.90 223.79 L321.27 222.54 L323.63 221.31 L326.00 220.08 L328.36 218.86 L330.73 217.65 L333.09 216.45 L335.46 215.25 L337.82 214.06 L340.18 212.88 L342.55 211.70 L344.91 210.54 L347.28 209.37 L349.64 208.22 L352.01 207.07 L354.37 205.93 L356.74 204.80 L359.10 203.67 L361.47 202.55 L363.83 201.44 L366.20 200.33 L368.56 199.23 L370.93 198.14 L373.29 197.05 L375.66 195.97 L378.02 194.90 L380.39 193.83 L382.75 192.77 L385.12 191.72 L387.48 190.67 L389.85 189.62 L392.21 188.59 L394.58 187.55 L396.94 186.53 L399.31 185.51 L401.67 184.50 L404.04 183.49 L406.40 182.49 L408.77 181.49 L411.13 180.50 L413.50 179.52 L415.86 178.54 L418.23 177.56 L420.59 176.60 L422.95 175.63 L425.32 174.68 L427.68 173.72 L430.05 172.78 L432.41 171.84 L434.78 170.90 L437.14 169.97 L439.51 169.04 L441.87 168.12 L444.24 167.21 L446.60 166.30 L448.97 165.39 L451.33 164.49 L453.70 163.60 L456.06 162.71 L458.43 161.82 L460.79 160.94 L463.16 160.06 L465.52 159.19 L467.89 158.32 L470.25 157.46 L472.62 156.61 L474.98 155.75 L477.35 154.90 L479.71 154.06 L482.08 153.22 L484.44 152.39 L486.81 151.56 L489.17 150.73 L491.54 149.91 L493.90 149.09 L496.27 148.28 L498.63 147.47 L500.99 146.67 L503.36 145.87 L505.72 145.07 L508.09 144.28 L510.45 143.49 L512.82 142.71 L515.18 141.93 L517.55 141.16 L519.91 140.38 L522.28 139.62 L524.64 138.85 L527.01 138.09 L529.37 137.34 L531.74 136.59 L534.10 135.84 L536.47 135.10 L538.83 134.36 L541.20 133.62 L543.56 132.89 L545.93 132.16 L548.29 131.43 L550.66 130.71 L553.02 129.99 L555.39 129.28 L557.75 128.57 L560.12 127.86 L562.48 127.16 L564.85 126.46 L567.21 125.76 L569.58 125.07 L571.94 124.38 L574.31 123.69 L576.67 123.01 L579.04 122.33 L581.40 121.65" stroke="#ff0000"/>
<path d="M16.20 483.20 L18.86 479.45 L21.52 475.73 L24.18 472.06 L26.84 468.41 L29.50 464.81 L32.16 461.23 L34.82 457.69 L37.48 454.19 L40.14 450.72 L42.80 447.28 L45.47 443.87 L48.13 440.50 L50.79 437.16 L53.45 433.85 L56.11 430.57 L58.77 427.32 L61.43 424.10 L64.09 420.91 L66.75 417.74 L69.41 414.61 L72.07 411.51 L74.73 408.43 L77.39 405.39 L80.05 402.37 L82.71 399.37 L85.37 396.41 L88.03 393.47 L90.69 390.55 L93.35 387.67 L96.01 384.80 L98.67 381.97 L101.33 379.16 L104.00 376.37 L106.66 373.61 L109.32 370.87 L111.98 368.15 L114.64 365.46 L117.30 362.79 L119.96 360.14 L122.62 357.52 L125.28 354.92 L127.94 352.34 L130.60 349.78 L133.26 347.25 L135.92 344.73 L138.58 342.24 L141.24 339.77 L143.90 337.32 L146.56 334.88 L149.22 332.47 L151.88 330.08 L154.54 327.71 L157.20 325.36 L159.86 323.02 L162.53 320.71 L165.19 318.41 L167.85 316.14 L170.51 313.88 L173.17 311.64 L175.83 309.41 L178.49 307.21 L181.15 305.02 L183.81 302.85 L186.47 300.70 L189.13 298.56 L191.79 296.44 L194.45 294.34 L197.11 292.25 L199.77 290.19 L202.43 288.13 L205.09 286.09 L207.75 284.07 L210.41 282.07 L213.07 280.07 L215.73 278.10 L218.39 276.14 L221.06 274.19 L223.72 272.26 L226.38 270.34 L229.04 268.44 L231.70 266.55 L234.36 264.68 L237.02 262.82 L239.68 260.98 L242.34 259.14 L245.00 257.33 L247.66 255.52 L250.32 253.73 L252.98 251.95 L255.64 250.18 L258.30 248.43 L260.96 246.69 L263.62 244.97 L266.28 243.25 L268.94 241.55 L271.60 239.86 L274.26 238.18 L276.93 236.51 L279.59 234.86 L282.25 233.22 L284.91 231.59 L287.57 229.97 L290.23 228.36 L292.89 226.77 L295.55 225.18 L298.21 223.61 L300.87 222.04 L303.53 220.49 L306.19 218.95 L308.85 217.42 L311.51 215.90 L314.17 214.39 L316.83 212.89 L319.49 211.40 L322.15 209.93 L324.81 208.46 L327.47 207.00 L330.13 205.55 L332.79 204.11 L335.46 202.68 L338.12 201.26 L340.78 199.85 L343.44 198.45 L346.10 197.06 L348.76 195.68 L351.42 194.31 L354.08 192.95 L356.74 191.59 L359.40 190.25 L362.06 188.91 L364.72 187.58 L367.38 186.26 L370.04 184.95 L372.70 183.65 L375.36 182.36 L378.02 181.07 L380.68 179.79 L383.34 178.53 L386.00 177.27 L388.66 176.01 L391.32 174.77 L393.99 173.53 L396.65 172.30 L399.31 171.08 L401.97 169.87 L404.63 168.67 L407.29 167.47 L409.95 166.28 L412.61 165.10 L415.27 163.92 L417.93 162.75 L420.59 161.59 L423.25 160.44 L425.91 159.29 L428.57 158.15 L431.23 157.02 L433.89 155.90 L436.55 154.78 L439.21 153.67 L441.87 152.56 L444.53 151.46 L447.19 150.37 L449.86 149.29 L452.52 148.21 L455.18 147.14 L457.84 146.08 L460.50 145.02 L463.16 143.96 L465.82 142.92 L468.48 141.88 L471.14 140.85 L473.80 139.82 L476.46 138.80 L479.12 137.78 L481.78 136.77 L484.44 135.77 L487.10 134.77 L489.76 133.78 L492.42 132.80 L495.08 131.82 L497.74 130.84 L500.40 129.87 L503.06 128.91 L505.72 127.95 L508.39 127.00 L511.05 126.06 L513.71 125.12 L516.37 124.18 L519.03 123.25 L521.69 122.33 L524.35 121.41 L527.01 120.49 L529.67 119.58 L532.33 118.68 L534.99 117.78 L537.65 116.89 L540.31 116.00 L542.97 115.11 L545.63 114.24 L548.29 113.36 L550.95 112.49 L553.61 111.63 L556.27 110.77 L558.93 109.91 L561.59 109.07 L564.25 108.22 L566.92 107.38 L569.58 106.54 L572.24 105.71 L574.90 104.89 L577.56 104.06 L580.22 103.25 L582.88 102.43 L585.54 101.62 L588.20 100.82 L590.86 100.02 L593.52 99.22 L596.18 98.43 L598.84 97.65 L601.50 96.86 L604.16 96.08 L606.82 95.31 L609.48 94.54 L612.14 93.77 L614.80 93.01 L617.46 92.25 L620.12 91.50 L622.78 90.75 L625.45 90.00 L628.11 89.26 L630.77 88.52 L633.43 87.78 L636.09 87.05 L638.75 86.33 L641.41 85.60 L644.07 84.88 L646.73 84.17 L649.39 83.46 L652.05 82.75" stroke="#ff8000"/>
</g>
<g fill="none" stroke="#40409c" stroke-width="2" stroke-dasharray="5.15 1.7">
<path d="M16.20 483.20 L17.97 483.15 L19.75 483.04 L21.52 482.86 L23.29 482.63 L25.06 482.36 L26.84 482.04 L28.61 481.69 L30.38 481.30 L32.16 480.87 L33.93 480.41 L35.70 479.92 L37.47 479.40 L39.25 478.85 L41.02 478.27 L42.79 477.67 L44.56 477.04 L46.34 476.39 L48.11 475.72 L49.88 475.02 L51.66 474.31 L53.43 473.57 L55.20 472.81 L56.97 472.03 L58.75 471.24 L60.52 470.43 L62.29 469.60 L64.07 468.75 L65.84 467.89 L67.61 467.01 L69.38 466.12 L71.16 465.21 L72.93 464.29 L74.70 463.36 L76.48 462.41 L78.25 461.45 L80.02 460.48 L81.79 459.50 L83.57 458.50 L85.34 457.49 L87.11 456.47 L88.88 455.45 L90.66 454.41 L92.43 453.36 L94.20 452.30 L95.98 451.23 L97.75 450.15 L99.52 449.07 L101.29 447.98 L103.07 446.87 L104.84 445.76 L106.61 444.64 L108.39 443.52 L110.16 442.38 L111.93 441.24 L113.70 440.10 L115.48 438.94 L117.25 437.78 L119.02 436.62 L120.80 435.44 L122.57 434.27 L124.34 433.08 L126.11 431.89 L127.89 430.70 L129.66 429.50 L131.43 428.29 L133.20 427.08 L134.98 425.86 L136.75 424.64 L138.52 423.42 L140.30 422.19 L142.07 420.96 L143.84 419.72 L145.61 418.48 L147.39 417.24 L149.16 415.99 L150.93 414.74 L152.71 413.48 L154.48 412.23 L156.25 410.96 L158.02 409.70 L159.80 408.43 L161.57 407.16 L163.34 405.89 L165.12 404.62 L166.89 403.34 L168.66 402.06 L170.43 400.78 L172.21 399.49 L173.98 398.20 L175.75 396.92 L177.52 395.62 L179.30 394.33 L181.07 393.04 L182.84 391.74 L184.62 390.44 L186.39 389.14 L188.16 387.84 L189.93 386.54 L191.71 385.24 L193.48 383.93 L195.25 382.63 L197.03 381.32 L198.80 380.01 L200.57 378.71 L202.34 377.40 L204.12 376.08 L205.89 374.77 L207.66 373.46 L209.44 372.15 L211.21 370.84 L212.98 369.52 L214.75 368.21 L216.53 366.89 L218.30 365.58 L220.07 364.26 L221.84 362.95 L223.62 361.63 L225.39 360.31 L227.16 359.00 L228.94 357.68 L230.71 356.37 L232.48 355.05 L234.25 353.73 L236.03 352.42 L237.80 351.10 L239.57 349.78 L241.35 348.47 L243.12 347.15 L244.89 345.84 L246.66 344.52 L248.44 343.21 L250.21 341.89 L251.98 340.58 L253.76 339.27 L255.53 337.96 L257.30 336.64 L259.07 335.33 L260.85 334.02 L262.62 332.71 L264.39 331.40 L266.17 330.09 L267.94 328.78 L269.71 327.48 L271.48 326.17 L273.26 324.87 L275.03 323.56 L276.80 322.26 L278.57 320.95 L280.35 319.65 L282.12 318.35 L283.89 317.05 L285.67 315.75 L287.44 314.45 L289.21 313.16 L290.98 311.86 L292.76 310.56 L294.53 309.27 L296.30 307.98 L298.08 306.69 L299.85 305.40 L301.62 304.11 L303.39 302.82 L305.17 301.53 L306.94 300.25 L308.71 298.96 L310.49 297.68 L312.26 296.40 L314.03 295.12 L315.80 293.84 L317.58 292.56 L319.35 291.28 L321.12 290.01 L322.89 288.73 L324.67 287.46 L326.44 286.19 L328.21 284.92 L329.99 283.65 L331.76 282.39 L333.53 281.12 L335.30 279.86 L337.08 278.60 L338.85 277.34 L340.62 276.08 L342.40 274.82 L344.17 273.57 L345.94 272.31 L347.71 271.06 L349.49 269.81 L351.26 268.56 L353.03 267.31 L354.81 266.06 L356.58 264.82 L358.35 263.58 L360.12 262.33 L361.90 261.09 L363.67 259.86 L365.44 258.62 L367.21 257.39 L368.99 256.15 L370.76 254.92 L372.53 253.69 L374.31 252.46 L376.08 251.24 L377.85 250.01 L379.62 248.79 L381.40 247.57 L383.17 246.35 L384.94 245.13 L386.72 243.92 L388.49 242.70 L390.26 241.49 L392.03 240.28 L393.81 239.07 L395.58 237.86 L397.35 236.66 L399.13 235.46 L400.90 234.25 L402.67 233.05 L404.44 231.86 L406.22 230.66 L407.99 229.47 L409.76 228.27 L411.53 227.08 L413.31 225.89 L415.08 224.71 L416.85 223.52 L418.63 222.34 L420.40 221.16 L422.17 219.98 L423.94 218.80 L425.72 217.62 L427.49 216.45 L429.26 215.28 L431.04 214.11 L432.81 212.94 L434.58 211.77 L436.35 210.61 L438.13 209.44 L439.90 208.28 L441.67 207.12 L443.45 205.96 L445.22 204.81 L446.99 203.66 L448.76 202.50 L450.54 201.35 L452.31 200.21 L454.08 199.06 L455.85 197.92 L457.63 196.77 L459.40 195.63 L461.17 194.49 L462.95 193.36 L464.72 192.22 L466.49 191.09 L468.26 189.96 L470.04 188.83 L471.81 187.70 L473.58 186.58 L475.36 185.45 L477.13 184.33 L478.90 183.21 L480.67 182.09 L482.45 180.98 L484.22 179.86 L485.99 178.75 L487.77 177.64 L489.54 176.53 L491.31 175.43 L493.08 174.32 L494.86 173.22 L496.63 172.12 L498.40 171.02 L500.17 169.92 L501.95 168.83 L503.72 167.73 L505.49 166.64 L507.27 165.55 L509.04 164.46 L510.81 163.38 L512.58 162.29 L514.36 161.21 L516.13 160.13 L517.90 159.05 L519.68 157.98 L521.45 156.90 L523.22 155.83 L524.99 154.76 L526.77 153.69 L528.54 152.62 L530.31 151.56 L532.09 150.49 L533.86 149.43 L535.63 148.37 L537.40 147.31 L539.18 146.26 L540.95 145.20 L542.72 144.15 L544.49 143.10 L546.27 142.05 L548.04 141.01 L549.81 139.96 L551.59 138.92 L553.36 137.88 L555.13 136.84 L556.90 135.80 L558.68 134.76 L560.45 133.73 L562.22 132.70 L564.00 131.67 L565.77 130.64 L567.54 129.61 L569.31 128.59 L571.09 127.57 L572.86 126.54 L574.63 125.53 L576.41 124.51 L578.18 123.49 L579.95 122.48 L581.72 121.47 L583.50 120.46 L585.27 119.45 L587.04 118.44 L588.81 117.44 L590.59 116.43 L592.36 115.43 L594.13 114.43 L595.91 113.43 L597.68 112.44 L599.45 111.44 L601.22 110.45 L603.00 109.46 L604.77 108.47 L606.54 107.49 L608.32 106.50 L610.09 105.52 L611.86 104.54 L613.63 103.56 L615.41 102.58 L617.18 101.60 L618.95 100.63 L620.73 99.65 L622.50 98.68 L624.27 97.71 L626.04 96.75 L627.82 95.78 L629.59 94.81 L631.36 93.85 L633.13 92.89 L634.91 91.93 L636.68 90.98 L638.45 90.02 L640.23 89.07 L642.00 88.11 L643.77 87.16 L645.54 86.21 L647.32 85.27 L649.09 84.32 L650.86 83.38 L652.64 82.44 L654.41 81.50 L656.18 80.56 L657.95 79.62 L659.73 78.69 L661.50 77.75 L663.27 76.82 L665.05 75.89 L666.82 74.96 L668.59 74.03 L670.36 73.11 L672.14 72.19 L673.91 71.26 L675.68 70.34 L677.45 69.43 L679.23 68.51 L681.00 67.59 L682.77 66.68 L684.55 65.77 L686.32 64.86 L688.09 63.95 L689.86 63.04 L691.64 62.14 L693.41 61.23 L695.18 60.33 L696.96 59.43 L698.73 58.53 L700.50 57.63 L702.27 56.74 L704.05 55.84 L705.82 54.95 L707.59 54.06 L709.37 53.17 L711.14 52.28 L712.91 51.40 L714.68 50.51 L716.46 49.63 L718.23 48.75 L720.00 47.87 L721.77 46.99 L723.55 46.11" stroke-dasharray="5.35 1.45"/>
<path d="M16.20 483.20 L17.97 480.63 L19.75 478.07 L21.52 475.53 L23.29 473.00 L25.06 470.49 L26.84 468.00 L28.61 465.52 L30.38 463.06 L32.16 460.62 L33.93 458.18 L35.70 455.77 L37.47 453.37 L39.25 450.98 L41.02 448.61 L42.79 446.25 L44.56 443.91 L46.34 441.58 L48.11 439.27 L49.88 436.97 L51.66 434.68 L53.43 432.41 L55.20 430.15 L56.97 427.91 L58.75 425.67 L60.52 423.46 L62.29 421.25 L64.07 419.06 L65.84 416.88 L67.61 414.72 L69.38 412.57 L71.16 410.43 L72.93 408.30 L74.70 406.18 L76.48 404.08 L78.25 401.99 L80.02 399.92 L81.79 397.85 L83.57 395.80 L85.34 393.76 L87.11 391.73 L88.88 389.71 L90.66 387.70 L92.43 385.71 L94.20 383.73 L95.98 381.76 L97.75 379.80 L99.52 377.85 L101.29 375.91 L103.07 373.98 L104.84 372.07 L106.61 370.16 L108.39 368.27 L110.16 366.38 L111.93 364.51 L113.70 362.65 L115.48 360.80 L117.25 358.96 L119.02 357.13 L120.80 355.30 L122.57 353.49 L124.34 351.69 L126.11 349.90 L127.89 348.12 L129.66 346.35 L131.43 344.59 L133.20 342.84 L134.98 341.09 L136.75 339.36 L138.52 337.64 L140.30 335.92 L142.07 334.22 L143.84 332.53 L145.61 330.84 L147.39 329.16 L149.16 327.49 L150.93 325.84 L152.71 324.19 L154.48 322.54 L156.25 320.91 L158.02 319.29 L159.80 317.67 L161.57 316.07 L163.34 314.47 L165.12 312.88 L166.89 311.30 L168.66 309.72 L170.43 308.16 L172.21 306.60 L173.98 305.06 L175.75 303.52 L177.52 301.98 L179.30 300.46 L181.07 298.94 L182.84 297.43 L184.62 295.93 L186.39 294.44 L188.16 292.96 L189.93 291.48 L191.71 290.01 L193.48 288.55 L195.25 287.09 L197.03 285.64 L198.80 284.20 L200.57 282.77 L202.34 281.34 L204.12 279.93 L205.89 278.51 L207.66 277.11 L209.44 275.71 L211.21 274.32 L212.98 272.94 L214.75 271.56 L216.53 270.20 L218.30 268.83 L220.07 267.48 L221.84 266.13 L223.62 264.79 L225.39 263.45 L227.16 262.12 L228.94 260.80 L230.71 259.48 L232.48 258.17 L234.25 256.87 L236.03 255.57 L237.80 254.28 L239.57 253.00 L241.35 251.72 L243.12 250.45 L244.89 249.18 L246.66 247.92 L248.44 246.67 L250.21 245.42 L251.98 244.18 L253.76 242.95 L255.53 241.72 L257.30 240.49 L259.07 239.28 L260.85 238.06 L262.62 236.86 L264.39 235.66 L266.17 234.46 L267.94 233.27 L269.71 232.09 L271.48 230.91 L273.26 229.74 L275.03 228.57 L276.80 227.41 L278.57 226.26 L280.35 225.10 L282.12 223.96 L283.89 222.82 L285.67 221.69 L287.44 220.56 L289.21 219.43 L290.98 218.31 L292.76 217.20 L294.53 216.09 L296.30 214.99 L298.08 213.89 L299.85 212.79 L301.62 211.71 L303.39 210.62 L305.17 209.54 L306.94 208.47 L308.71 207.40 L310.49 206.34 L312.26 205.28 L314.03 204.22 L315.80 203.17 L317.58 202.13 L319.35 201.09 L321.12 200.05 L322.89 199.02 L324.67 198.00 L326.44 196.97 L328.21 195.96 L329.99 194.94 L331.76 193.94 L333.53 192.93 L335.30 191.93 L337.08 190.94 L338.85 189.95 L340.62 188.96 L342.40 187.98 L344.17 187.00 L345.94 186.03 L347.71 185.06 L349.49 184.10 L351.26 183.14 L353.03 182.18 L354.81 181.23 L356.58 180.28 L358.35 179.33 L360.12 178.39 L361.90 177.46 L363.67 176.53 L365.44 175.60 L367.21 174.68 L368.99 173.76 L370.76 172.84 L372.53 171.93 L374.31 171.02 L376.08 170.12 L377.85 169.21 L379.62 168.32 L381.40 167.43 L383.17 166.54 L384.94 165.65 L386.72 164.77 L388.49 163.89 L390.26 163.02 L392.03 162.15 L393.81 161.28 L395.58 160.42 L397.35 159.56 L399.13 158.70 L400.90 157.85 L402.67 157.00 L404.44 156.15 L406.22 155.31 L407.99 154.47 L409.76 153.64 L411.53 152.81 L413.31 151.98 L415.08 151.15 L416.85 150.33 L418.63 149.51 L420.40 148.70 L422.17 147.89 L423.94 147.08 L425.72 146.28 L427.49 145.47 L429.26 144.68 L431.04 143.88 L432.81 143.09 L434.58 142.30 L436.35 141.52 L438.13 140.73 L439.90 139.95 L441.67 139.18 L443.45 138.41 L445.22 137.64 L446.99 136.87 L448.76 136.10 L450.54 135.34 L452.31 134.59 L454.08 133.83 L455.85 133.08 L457.63 132.33 L459.40 131.59 L461.17 130.84 L462.95 130.10 L464.72 129.37 L466.49 128.63 L468.26 127.90 L470.04 127.17 L471.81 126.45 L473.58 125.73 L475.36 125.01 L477.13 124.29 L478.90 123.57 L480.67 122.86 L482.45 122.15 L484.22 121.45 L485.99 120.75 L487.77 120.05 L489.54 119.35 L491.31 118.65 L493.08 117.96 L494.86 117.27 L496.63 116.58 L498.40 115.90 L500.17 115.22 L501.95 114.54 L503.72 113.86 L505.49 113.19 L507.27 112.52 L509.04 111.85 L510.81 111.18 L512.58 110.52 L514.36 109.85 L516.13 109.20 L517.90 108.54 L519.68 107.88 L521.45 107.23 L523.22 106.58 L524.99 105.94 L526.77 105.29 L528.54 104.65 L530.31 104.01 L532.09 103.37 L533.86 102.74 L535.63 102.11 L537.40 101.48 L539.18 100.85 L540.95 100.22 L542.72 99.60 L544.49 98.98 L546.27 98.36 L548.04 97.75 L549.81 97.13 L551.59 96.52 L553.36 95.91 L555.13 95.30 L556.90 94.70 L558.68 94.10 L560.45 93.49 L562.22 92.90 L564.00 92.30 L565.77 91.71 L567.54 91.11 L569.31 90.52 L571.09 89.94 L572.86 89.35 L574.63 88.77 L576.41 88.19 L578.18 87.61 L579.95 87.03 L581.72 86.45 L583.50 85.88 L585.27 85.31 L587.04 84.74 L588.81 84.17 L590.59 83.61 L592.36 83.05 L594.13 82.48 L595.91 81.93 L597.68 81.37 L599.45 80.81 L601.22 80.26 L603.00 79.71 L604.77 79.16 L606.54 78.61 L608.32 78.07 L610.09 77.52 L611.86 76.98 L613.63 76.44 L615.41 75.90 L617.18 75.37 L618.95 74.83 L620.73 74.30 L622.50 73.77 L624.27 73.24 L626.04 72.72 L627.82 72.19 L629.59 71.67 L631.36 71.15 L633.13 70.63 L634.91 70.11 L636.68 69.59 L638.45 69.08 L640.23 68.57 L642.00 68.06 L643.77 67.55 L645.54 67.04 L647.32 66.53 L649.09 66.03 L650.86 65.53 L652.64 65.03 L654.41 64.53 L656.18 64.03 L657.95 63.54 L659.73 63.04 L661.50 62.55 L663.27 62.06 L665.05 61.57 L666.82 61.09 L668.59 60.60 L670.36 60.12 L672.14 59.63 L673.91 59.15 L675.68 58.68 L677.45 58.20 L679.23 57.72 L681.00 57.25 L682.77 56.78 L684.55 56.30 L686.32 55.83 L688.09 55.37 L689.86 54.90 L691.64 54.44 L693.41 53.97 L695.18 53.51 L696.96 53.05 L698.73 52.59 L700.50 52.13 L702.27 51.68 L704.05 51.22 L705.82 50.77 L707.59 50.32 L709.37 49.87 L711.14 49.42 L712.91 48.98 L714.68 48.53 L716.46 48.09 L718.23 47.64 L720.00 47.20 L721.77 46.76 L723.55 46.32"/>
</g>
<g font-family="'Liberation Serif', serif">
<text transform="translate(157.30 492.70) rotate(0.03)" font-size="8.00" fill="#000" text-anchor="middle">0.2</text>
<text transform="translate(298.60 492.70) rotate(0.03)" font-size="8.00" fill="#000" text-anchor="middle">0.4</text>
<text transform="translate(439.90 492.70) rotate(0.03)" font-size="8.00" fill="#000" text-anchor="middle">0.6</text>
<text transform="translate(581.20 492.70) rotate(0.03)" font-size="8.00" fill="#000" text-anchor="middle">0.8</text>
<text transform="translate(722.50 492.70) rotate(0.03)" font-size="8.00" fill="#000" text-anchor="middle">1.0</text>
<text transform="translate(13.00 420.15) rotate(0.03)" font-size="7.50" fill="#000" text-anchor="end">0.05</text>
<text transform="translate(13.00 354.65) rotate(0.03)" font-size="7.50" fill="#000" text-anchor="end">0.10</text>
<text transform="translate(13.00 289.15) rotate(0.03)" font-size="7.50" fill="#000" text-anchor="end">0.15</text>
<text transform="translate(13.00 223.65) rotate(0.03)" font-size="7.50" fill="#000" text-anchor="end">0.20</text>
<text transform="translate(13.00 158.15) rotate(0.03)" font-size="7.50" fill="#000" text-anchor="end">0.25</text>
<text transform="translate(13.00 92.65) rotate(0.03)" font-size="7.50" fill="#000" text-anchor="end">0.30</text>
<text transform="translate(16.60 11.10) rotate(0.03)" font-size="12.00" fill="#000" text-anchor="middle" font-style="italic">L</text>
<text transform="translate(15.50 31.00) rotate(0.03)" font-size="12.00" fill="#000" text-anchor="middle" font-style="italic">4 &#960;</text>
<text transform="translate(749.20 475.60) rotate(0.03)" font-size="12.00" fill="#000" text-anchor="middle" font-style="italic">c</text>
<text transform="translate(749.20 496.20) rotate(0.03)" font-size="12.00" fill="#000" text-anchor="middle" font-style="italic">a</text>
<line x1="6.8" y1="17.35" x2="23.8" y2="17.35" stroke="#222" stroke-width="1"/>
<line x1="744.8" y1="482.1" x2="752" y2="482.1" stroke="#222" stroke-width="1"/>
<text transform="translate(112.10 463.35) rotate(0.03) scale(1.000 0.980)" font-size="10.50" fill="#ff0000" font-weight="bold" stroke="#ff0000" stroke-width="0.20">b/a: 0.1</text>
<text transform="translate(178.45 425.85) rotate(0.03) scale(1.000 0.980)" font-size="10.50" fill="#00ff00" font-weight="bold" stroke="#00ff00" stroke-width="0.20">0.2</text>
<text transform="translate(249.65 374.65) rotate(0.03) scale(1.000 0.980)" font-size="10.50" fill="#ff00ff" font-weight="bold" stroke="#ff00ff" stroke-width="0.20">0.3</text>
<text transform="translate(320.30 318.70) rotate(0.03) scale(1.000 0.980)" font-size="10.50" fill="#000000" font-weight="bold" stroke="#000000" stroke-width="0.20">0.4</text>
<text transform="translate(390.50 265.80) rotate(0.03) scale(1.000 0.980)" font-size="10.50" fill="#0000ff" font-weight="bold" stroke="#0000ff" stroke-width="0.20">0.5</text>
<text transform="translate(461.60 218.35) rotate(0.03) scale(1.000 0.980)" font-size="10.50" fill="#996633" font-weight="bold" stroke="#996633" stroke-width="0.20">0.6</text>
<text transform="translate(529.00 173.65) rotate(0.03) scale(1.000 0.980)" font-size="10.50" fill="#00ffff" font-weight="bold" stroke="#00ffff" stroke-width="0.20">0.7</text>
<text transform="translate(602.60 127.85) rotate(0.03) scale(1.000 0.980)" font-size="10.50" fill="#ff0000" font-weight="bold" stroke="#ff0000" stroke-width="0.20">0.8</text>
<text transform="translate(670.20 91.35) rotate(0.03) scale(1.000 0.980)" font-size="10.50" fill="#ff8000" font-weight="bold" stroke="#ff8000" stroke-width="0.20">0.9</text>
<text transform="translate(108.65 157.80) rotate(0.03) scale(1.000 1.090)" font-size="10.10" fill="#000" font-weight="bold" stroke="#000" stroke-width="0.25">dashed</text>
<text transform="translate(142.20 157.80) rotate(0.03) scale(1.000 1.090)" font-size="10.10" fill="#000" font-weight="bold" stroke="#000" stroke-width="0.25">curve:</text>
<text transform="translate(172.50 157.80) rotate(0.03) scale(1.000 1.090)" font-size="10.10" fill="#000" font-weight="bold" stroke="#000" stroke-width="0.25">a</text>
<text transform="translate(177.90 157.80) rotate(0.03) scale(1.150 1.090)" font-size="10.10" fill="#000" font-weight="bold" stroke="#000" stroke-width="0.25">=</text>
<text transform="translate(184.20 157.80) rotate(0.03) scale(1.000 1.090)" font-size="10.10" fill="#000" font-weight="bold" stroke="#000" stroke-width="0.25">b</text>
<text transform="translate(190.60 157.80) rotate(0.03) scale(1.000 1.090)" font-size="10.10" fill="#000" font-weight="bold" font-style="italic" stroke="#000" stroke-width="0.25">;</text>
<text transform="translate(201.70 157.80) rotate(0.03) scale(1.000 1.090)" font-size="10.10" fill="#000" font-weight="bold" font-style="italic" stroke="#000" stroke-width="0.25">oblate</text>
<text transform="translate(230.00 157.80) rotate(0.03) scale(1.000 1.090)" font-size="10.10" fill="#000" font-weight="bold" font-style="italic" stroke="#000" stroke-width="0.25">sheroid</text>
<text transform="translate(502.30 321.90) rotate(0.03) scale(1.000 1.090)" font-size="10.10" fill="#000" font-weight="bold" stroke="#000" stroke-width="0.25">dashed</text>
<text transform="translate(536.00 321.90) rotate(0.03) scale(1.000 1.090)" font-size="10.10" fill="#000" font-weight="bold" stroke="#000" stroke-width="0.25">curve:</text>
<text transform="translate(566.50 321.90) rotate(0.03) scale(1.000 1.090)" font-size="10.10" fill="#000" font-weight="bold" stroke="#000" stroke-width="0.25">b</text>
<text transform="translate(572.30 321.90) rotate(0.03) scale(1.150 1.090)" font-size="10.10" fill="#000" font-weight="bold" stroke="#000" stroke-width="0.25">=</text>
<text transform="translate(578.60 321.90) rotate(0.03) scale(1.000 1.090)" font-size="10.10" fill="#000" font-weight="bold" stroke="#000" stroke-width="0.25">c</text>
<text transform="translate(583.90 321.90) rotate(0.03) scale(1.000 1.090)" font-size="10.10" fill="#000" font-weight="bold" font-style="italic" stroke="#000" stroke-width="0.25">;</text>
<text transform="translate(590.00 321.90) rotate(0.03) scale(1.000 1.090)" font-size="10.10" fill="#000" font-weight="bold" font-style="italic" stroke="#000" stroke-width="0.25">prolate</text>
<text transform="translate(622.80 321.90) rotate(0.03) scale(1.000 1.090)" font-size="10.10" fill="#000" font-weight="bold" font-style="italic" stroke="#000" stroke-width="0.25">spheroid</text>
</g>
</svg>
</body></html>
